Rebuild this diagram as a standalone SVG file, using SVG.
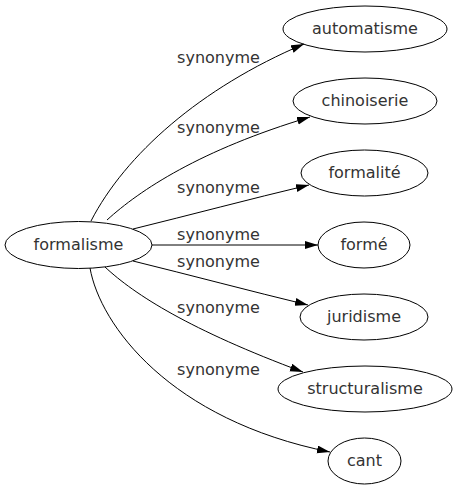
<svg xmlns="http://www.w3.org/2000/svg" width="457" height="491" viewBox="0 0 457 491">
<style>
text{font-family:"DejaVu Sans","Liberation Sans",sans-serif;font-size:16px;fill:#333;text-anchor:middle}
.n ellipse{fill:none;stroke:#000;stroke-width:1}
.e path{fill:none;stroke:#000;stroke-width:1;marker-end:url(#ah)}
</style>
<defs>
<marker id="ah" markerUnits="userSpaceOnUse" markerWidth="14" markerHeight="9" refX="13" refY="4" orient="auto">
<path d="M0,0 L13,4 L0,8 z" fill="#000"/>
</marker>
</defs>
<rect width="457" height="491" fill="#fff"/>
<g id="edges" class="e">
<path d="M91,221 C125,155 200,88 304,44"/>
<path d="M107,220 C140,190 200,150 310,117"/>
<path d="M133,229 C190,215 250,199 309,185"/>
<path d="M152,245 L318,245"/>
<path d="M133,261 C190,275 250,291 308,305"/>
<path d="M105,267 C135,295 190,330 303,372"/>
<path d="M90,268 C100,325 170,420 330,452"/>
</g>
<g id="labels">
<text x="218.5" y="63">synonyme</text>
<text x="218.5" y="133">synonyme</text>
<text x="218.5" y="193">synonyme</text>
<text x="218.5" y="240">synonyme</text>
<text x="218.5" y="267">synonyme</text>
<text x="218.5" y="313">synonyme</text>
<text x="218.5" y="375">synonyme</text>
</g>
<g id="formalisme" class="n"><ellipse cx="78.5" cy="245" rx="73.5" ry="23.5"/><text x="78.5" y="250">formalisme</text></g>
<g id="automatisme" class="n"><ellipse cx="365" cy="29" rx="82" ry="23"/><text x="365" y="34">automatisme</text></g>
<g id="chinoiserie" class="n"><ellipse cx="365" cy="101" rx="72" ry="23"/><text x="365" y="106">chinoiserie</text></g>
<g id="formalite" class="n"><ellipse cx="364.5" cy="173" rx="63.5" ry="23"/><text x="364.5" y="178">formalité</text></g>
<g id="forme" class="n"><ellipse cx="364" cy="245" rx="46" ry="23"/><text x="364" y="250">formé</text></g>
<g id="juridisme" class="n"><ellipse cx="364" cy="317" rx="64" ry="23"/><text x="364" y="322">juridisme</text></g>
<g id="structuralisme" class="n"><ellipse cx="365" cy="389" rx="87" ry="23"/><text x="365" y="394">structuralisme</text></g>
<g id="cant" class="n"><ellipse cx="364.5" cy="461" rx="36.5" ry="23"/><text x="364.5" y="466">cant</text></g>
</svg>
